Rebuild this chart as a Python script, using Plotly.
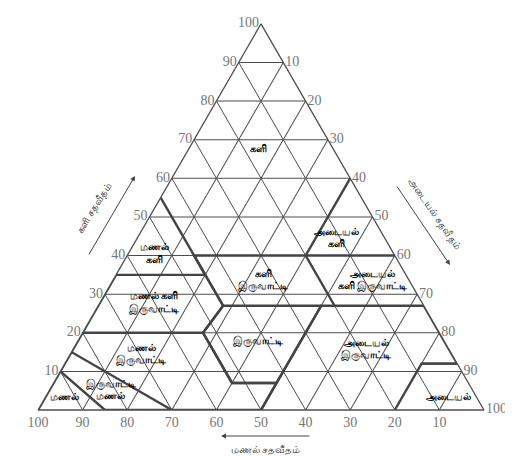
import plotly.graph_objects as go

# ---- data (clay, sand, silt in %) ----
tick_vals = [10, 20, 30, 40, 50, 60, 70, 80, 90, 100]
tick_text = ["10", "20", "30", "40", "50", "60", "70", "80", "90", "100"]

class_names = ["களி", "அடையல்\nகளி", "மணல்\nகளி", "களி\nஇருவாட்டி",
               "அடையல்\nகளி இருவாட்டி", "மணல் களி\nஇருவாட்டி", "இருவாட்டி",
               "மணல்\nஇருவாட்டி", "அடையல்\nஇருவாட்டி", "இருவாட்டி\nமணல்",
               "மணல்", "அடையல்"]
label_clay = [67.5, 44.4, 40.4, 33.5, 33.5, 27.7, 17.6, 14.4, 15.7, 5.0, 3.2, 3.2]
label_sand = [16.7, 10.8, 53.6, 32.7, 8.2, 60.1, 41.8, 69.6, 18.5, 81.2, 92.4, 6.3]
label_silt = [15.8, 44.7, 6.0, 33.8, 58.3, 12.2, 40.6, 16.0, 65.8, 13.8, 4.4, 90.5]

# USDA texture class boundaries (clay, sand, silt)
boundaries = {
    "sand": [(0, 100, 0), (10, 90, 0), (0, 85, 15)],
    "loamy_sand": [(10, 90, 0), (15, 85, 0), (0, 70, 30), (0, 85, 15)],
    "sandy_loam": [(15, 85, 0), (20, 80, 0), (20, 53, 27), (7, 53, 40), (7, 43, 50), (0, 50, 50), (0, 70, 30)],
    "loam": [(7, 43, 50), (7, 53, 40), (20, 53, 27), (27, 45, 28), (27, 23, 50), (7, 43, 50)],
    "silt_loam": [(0, 50, 50), (7, 43, 50), (27, 23, 50), (27, 0, 73), (12, 0, 88), (12, 8, 80), (0, 20, 80)],
    "silt": [(12, 8, 80), (12, 0, 88)],
    "sandy_clay_loam": [(20, 80, 0), (35, 65, 0), (35, 45, 20), (27, 45, 28), (20, 53, 27)],
    "clay_loam": [(27, 45, 28), (40, 45, 15), (40, 20, 40), (27, 20, 53)],
    "silty_clay_loam": [(40, 20, 40), (40, 0, 60)],
    "sandy_clay": [(35, 45, 20), (55, 45, 0)],
    "clay": [(40, 45, 15), (35, 45, 20)],
    "silty_clay": [(40, 20, 40), (60, 0, 40)],
}

fig = go.Figure()

for name, pts in boundaries.items():
    fig.add_trace(go.Scatterternary(
        a=[p[0] for p in pts], b=[p[1] for p in pts], c=[p[2] for p in pts],
        mode="lines", line=dict(color="#444", width=2.4),
        hoverinfo="skip", showlegend=False))

fig.add_trace(go.Scatterternary(
    a=label_clay, b=label_sand, c=label_silt,
    mode="text", text=[t.replace("\n", "<br>") for t in class_names],
    textfont=dict(family="Noto Sans, DejaVu Sans", size=9.5, color="#000", weight="bold"),
    hoverinfo="skip", showlegend=False))

axis_common = dict(
    tickmode="array", tickvals=tick_vals, ticktext=tick_text,
    tickfont=dict(family="Liberation Serif, DejaVu Serif", size=14, color="#777"),
    showgrid=True, gridcolor="#4d4d4d", gridwidth=1.1,
    linecolor="#4d4d4d", linewidth=1.3, ticks="", min=0, title=dict(text=""))

title_font = dict(family="Noto Sans, DejaVu Sans", size=9.5, color="#222")
arrow_style = dict(xref="paper", yref="paper", axref="pixel", ayref="pixel",
                   showarrow=True, arrowhead=2, arrowsize=1, arrowwidth=1,
                   arrowcolor="#444", text="")

fig.update_layout(
    width=513, height=456,
    margin=dict(l=0, r=0, t=0, b=0),
    paper_bgcolor="white",
    ternary=dict(
        sum=100,
        bgcolor="white",
        domain=dict(x=[30/513, 476/513], y=[(456-402)/456, (456-15.8)/456]),
        aaxis=axis_common, baxis=axis_common, caxis=axis_common),
    annotations=[
        dict(text="களி சதவீதம்", x=85/513, y=1-200/456, xref="paper", yref="paper",
             xanchor="center", yanchor="middle",
             showarrow=False, textangle=-58, font=title_font),
        dict(text="அடையல் சதவீதம்", x=427/513, y=1-205/456, xref="paper", yref="paper",
             xanchor="center", yanchor="middle",
             showarrow=False, textangle=55, font=title_font),
        dict(text="மணல் சதவீதம்", x=257/513, y=1-441/456, xref="paper", yref="paper",
             xanchor="center", yanchor="middle",
             showarrow=False, font=title_font),
        dict(x=213/513, y=1-428/456, ax=90, ay=0, **arrow_style),
        dict(x=127/513, y=1-168/456, ax=-47, ay=80, **arrow_style),
        dict(x=442/513, y=1-257/456, ax=-54, ay=-80, **arrow_style),
    ],
)

fig.write_html("out.html")
